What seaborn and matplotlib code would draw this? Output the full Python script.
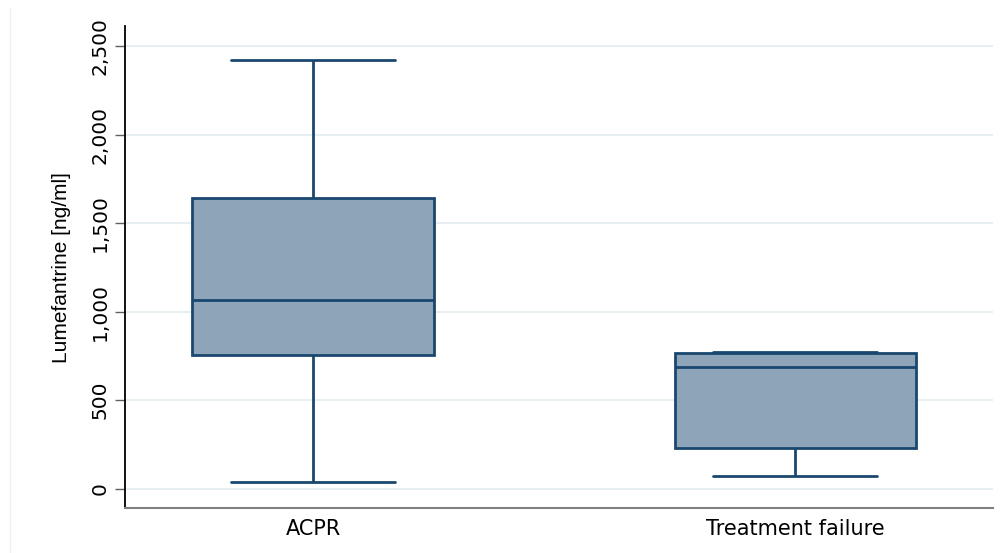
import numpy as np
import pandas as pd
import matplotlib
matplotlib.use("Agg")
import matplotlib.pyplot as plt
import seaborn as sns
from matplotlib.ticker import FuncFormatter
from matplotlib.patches import Rectangle

# Values (ng/ml): min, Q1, median, Q3, max per group
grupos = ["ACPR", "Treatment failure"]
acpr = [37, 754, 1065, 1641, 2421]
fallo = [72, 231, 686, 769, 773]

df = pd.DataFrame({
    "grupo": [grupos[0]] * len(acpr) + [grupos[1]] * len(fallo),
    "valor": acpr + fallo,
})

sns.set_style("white")
plt.rcParams["font.family"] = ["DejaVu Sans"]

fig = plt.figure(figsize=(10.08, 5.53), dpi=100)
ax = fig.add_axes([0.124, 0.081, 0.861, 0.872])

borde = "#1a476f"
sns.boxplot(data=df, x="grupo", y="valor", order=grupos, ax=ax,
            color="#8ea4b9", linecolor=borde, linewidth=2, width=0.5,
            saturation=1, fliersize=0, capwidths=0.34)

ax.set_xlim(-0.39, 1.41)
ax.set_ylim(-110, 2613)
ax.set_yticks([0, 500, 1000, 1500, 2000, 2500])
ax.yaxis.set_major_formatter(FuncFormatter(lambda v, p: f"{int(v):,}"))
ax.grid(axis="y", color="#e8eff2", linewidth=1.5)
ax.set_axisbelow(True)

for s in ["top", "right"]:
    ax.spines[s].set_visible(False)
ax.spines["left"].set_color("black")
ax.spines["left"].set_linewidth(1.3)
ax.spines["bottom"].set_color("#808080")
ax.spines["bottom"].set_linewidth(1.5)

ax.tick_params(axis="y", length=7, width=1, color="#606060", labelsize=14.5,
               labelrotation=90, pad=4, left=True, labelcolor="black")
ax.tick_params(axis="x", length=0, labelsize=15, pad=8, labelcolor="black")
for t in ax.get_yticklabels():
    t.set_verticalalignment("center")

ax.set_xlabel("")
ax.set_ylabel("Lumefantrine [ng/ml]", fontsize=15, labelpad=14,
              family="Liberation Sans", color="black")

fig.patches.append(Rectangle((10 / 1008, 0), 0, 546 / 553, transform=fig.transFigure,
                             fill=False, edgecolor="#eeeeee", linewidth=1))

fig.savefig("out.png", dpi=100, facecolor="white")
